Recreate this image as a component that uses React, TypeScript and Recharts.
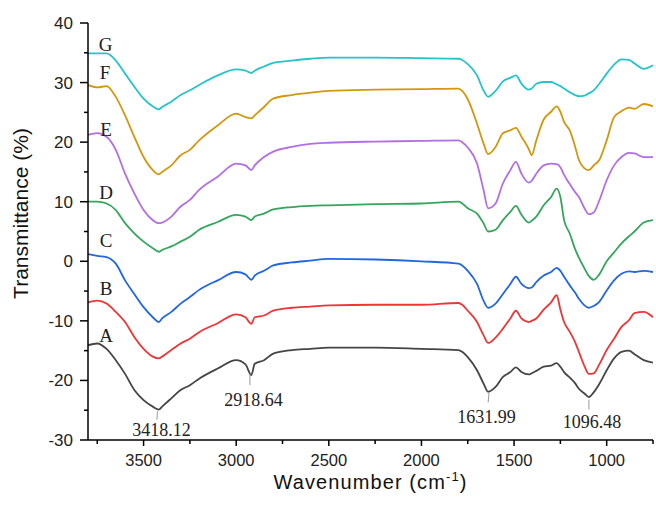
import React from 'react';
import { LineChart, Line, XAxis, YAxis, ReferenceDot, ReferenceLine, Label } from 'recharts';

const wavenumbers = [
  3800, 3750, 3700, 3650, 3600, 3550, 3500, 3450, 3418, 3400,
  3350, 3300, 3250, 3200, 3100, 3000, 2950, 2918, 2900, 2850,
  2800, 2700, 2600, 2500, 2250, 2000, 1800, 1780, 1750, 1700, 1665,
  1640, 1600, 1560, 1520, 1490, 1460, 1420, 1405, 1380, 1340,
  1300, 1270, 1250, 1230, 1200, 1170, 1150, 1120, 1096, 1070,
  1040, 1000, 960, 920, 880, 850, 800, 750,
];

const seriesG = [
  34.9, 34.9, 34.9, 33.7, 31.5, 29.3, 27.3, 26.0, 25.5, 25.9,
  26.8, 27.9, 28.7, 29.6, 31.2, 32.2, 32.0, 31.6, 32.0, 32.7,
  33.3, 33.7, 34.0, 34.2, 34.2, 34.1, 34.0, 33.8, 33.1, 31.2, 28.7,
  27.6, 28.6, 30.2, 30.8, 31.2, 29.8, 28.8, 29.0, 29.8, 30.1,
  30.1, 29.7, 29.4, 29.0, 28.4, 27.9, 27.7, 27.8, 28.2, 28.7,
  29.8, 31.5, 33.0, 33.9, 33.8, 33.2, 32.3, 32.9,
];

const seriesF = [
  29.6, 29.2, 29.4, 27.6, 24.5, 20.9, 17.5, 15.3, 14.6, 15.0,
  16.1, 17.8, 18.7, 20.3, 22.8, 24.8, 24.2, 24.0, 24.5, 25.9,
  27.3, 27.9, 28.3, 28.6, 28.8, 28.9, 29.0, 28.6, 27.2, 23.1, 19.8,
  18.0, 19.2, 21.5, 22.0, 22.4, 20.9, 18.8, 17.8, 20.3, 23.8,
  25.1, 26.0, 25.1, 23.4, 22.0, 19.2, 17.0, 15.6, 15.3, 16.1,
  17.0, 20.3, 24.2, 25.2, 25.8, 25.6, 26.4, 26.0,
];

const seriesE = [
  21.2, 21.5, 20.9, 18.7, 14.7, 11.4, 8.6, 6.9, 6.4, 6.5,
  7.5, 9.2, 10.3, 12.0, 14.2, 16.4, 16.1, 15.3, 16.1, 17.5,
  18.4, 19.2, 19.7, 19.9, 20.1, 20.2, 20.3, 20.0, 19.1, 16.4, 12.0,
  8.9, 9.7, 13.1, 15.3, 16.7, 14.7, 13.2, 13.5, 14.7, 16.1,
  16.4, 16.3, 15.8, 14.5, 13.0, 11.6, 10.8, 8.9, 7.9, 8.2,
  10.2, 13.6, 16.1, 17.5, 18.2, 18.1, 17.5, 17.5,
];

const seriesD = [
  10.0, 10.0, 9.7, 8.6, 6.4, 4.7, 3.3, 2.2, 1.6, 1.9,
  2.5, 3.3, 4.1, 5.3, 6.6, 7.8, 7.5, 6.9, 7.5, 8.0,
  8.7, 9.1, 9.3, 9.4, 9.6, 9.7, 10.0, 9.7, 8.9, 8.0, 6.4,
  5.0, 5.3, 6.9, 8.3, 9.3, 7.8, 6.5, 6.8, 7.5, 9.4,
  10.8, 12.2, 10.8, 6.9, 4.7, 2.0, 0.6, -1.2, -2.5, -3.1,
  -2.2, 0.0, 1.5, 3.0, 4.2, 5.0, 6.5, 6.9,
];

const seriesC = [
  1.2, 0.9, 0.7, -0.4, -3.2, -5.5, -7.7, -9.4, -10.2, -9.6,
  -8.5, -7.1, -6.0, -4.8, -3.2, -1.8, -2.2, -3.1, -2.4, -1.6,
  -0.7, -0.2, 0.1, 0.4, 0.3, 0.0, -0.4, -0.7, -1.6, -3.8, -6.6,
  -7.8, -7.1, -5.5, -3.8, -2.6, -3.8, -4.5, -4.4, -3.5, -2.4,
  -1.8, -1.1, -1.6, -2.6, -4.0, -5.3, -6.3, -7.4, -7.8, -7.5,
  -6.8, -4.9, -3.2, -2.1, -1.7, -1.8, -1.6, -1.8,
];

const seriesB = [
  -6.9, -6.6, -7.1, -8.5, -10.2, -12.7, -14.7, -16.0, -16.3, -16.0,
  -14.9, -13.8, -13.0, -11.9, -10.4, -8.9, -9.4, -10.5, -9.4, -9.1,
  -8.3, -7.8, -7.6, -7.4, -7.3, -7.3, -7.0, -7.3, -8.3, -10.2, -12.4,
  -13.7, -12.8, -11.3, -9.6, -8.3, -9.6, -10.2, -10.0, -9.6, -8.1,
  -6.9, -5.7, -8.1, -10.2, -11.8, -13.6, -15.2, -17.6, -18.9, -18.8,
  -17.3, -14.9, -13.0, -11.0, -9.9, -8.7, -8.5, -9.4,
];

const seriesA = [
  -14.1, -13.8, -14.7, -16.6, -18.9, -21.6, -23.3, -24.4, -24.9, -24.4,
  -23.0, -21.6, -20.8, -19.7, -18.0, -16.6, -17.3, -19.1, -17.2, -16.6,
  -15.5, -14.9, -14.7, -14.5, -14.5, -14.7, -14.9, -15.2, -16.1, -18.3, -20.5,
  -21.9, -21.1, -19.4, -18.6, -17.8, -18.6, -19.0, -18.8, -18.4, -17.7,
  -17.5, -17.1, -17.7, -18.6, -19.5, -20.5, -21.4, -22.2, -22.8, -22.0,
  -20.6, -18.3, -16.3, -15.2, -15.0, -15.6, -16.6, -17.0,
];

const xTicks = [3750, 3500, 3250, 3000, 2750, 2500, 2250, 2000, 1750, 1500, 1250, 1000, 750];
const yTicks = [-30, -25, -20, -15, -10, -5, 0, 5, 10, 15, 20, 25, 30, 35, 40];

// curve letters, placed next to the start of each trace
const letterNames = ['G', 'F', 'E', 'D', 'C', 'B', 'A'];
const letterX = [3705, 3708, 3702, 3702, 3702, 3702, 3702];
const letterY = [36.5, 31.7, 22.2, 11.6, 3.5, -4.5, -12.5];

// peak labels on trace A
const peakNames = ['3418.12', '2918.64', '1631.99', '1096.48'];
const peakTextX = [3403, 2907, 1649, 1079];
const peakTextY = [-28.2, -23.2, -26.1, -26.9];
const leaderX1 = [3425, 2926, 1635, 1096];
const leaderX2 = [3428, 2926, 1640, 1096];
const leaderY1 = [-25.2, -18.9, -22.1, -23.2];
const leaderY2 = [-26.6, -20.8, -23.7, -24.9];

const series = [
  { key: 'A', values: seriesA, color: '#454545' },
  { key: 'B', values: seriesB, color: '#ef3535' },
  { key: 'C', values: seriesC, color: '#2266e0' },
  { key: 'D', values: seriesD, color: '#33a65c' },
  { key: 'E', values: seriesE, color: '#b26ee6' },
  { key: 'F', values: seriesF, color: '#d3970f' },
  { key: 'G', values: seriesG, color: '#25c4c8' },
];

const data = wavenumbers.map((wn, i) => {
  const row: Record<string, number> = { wn };
  series.forEach((s) => {
    row[s.key] = s.values[i];
  });
  return row;
});

const SANS = '"Liberation Sans", Arial, sans-serif';
const SERIF = '"Liberation Serif", "Times New Roman", serif';

const XTick = (props: any) => {
  const { x, y, payload } = props;
  const labelled = payload.value % 500 === 0;
  return (
    <g>
      <line x1={x} x2={x} y1={y} y2={y + (labelled ? 6 : 4)} stroke="#000" strokeWidth={1.5} />
      {labelled && (
        <text x={x} y={y + 20.5} dy="0.35em" textAnchor="middle" fontSize={16.5} fontFamily={SANS} fill="#222">
          {payload.value}
        </text>
      )}
    </g>
  );
};

const YTick = (props: any) => {
  const { x, y, payload } = props;
  const major = payload.value % 10 === 0;
  return (
    <g>
      <line x1={x - (major ? 8 : 4)} x2={x} y1={y} y2={y} stroke="#000" strokeWidth={1.5} />
      {major && (
        <text x={x - 15} y={y} dy="0.35em" textAnchor="end" fontSize={17} fontFamily={SANS} fill="#222">
          {payload.value}
        </text>
      )}
    </g>
  );
};

const XTitle = (props: any) => {
  const { x, y, width } = props.viewBox;
  return (
    <text
      x={x + width / 2}
      y={y + 49}
      textAnchor="middle"
      fontSize={20}
      letterSpacing={1.1}
      fontFamily={SANS}
      fill="#111"
    >
      Wavenumber (cm
      <tspan dy={-8} fontSize={13}>-1</tspan>
      <tspan dy={8}>)</tspan>
    </text>
  );
};

const YTitle = (props: any) => {
  const { x, y, height } = props.viewBox;
  const cx = x + 28;
  const cy = y + height / 2 - 18;
  return (
    <text x={cx} y={cy} transform={`rotate(-90 ${cx} ${cy})`} textAnchor="middle" fontSize={21} fontFamily={SANS} fill="#111">
      Transmittance (%)
    </text>
  );
};

export default function App() {
  return (
    <div style={{ position: 'absolute', left: 0, top: 0, background: '#fff' }}>
      <LineChart width={656} height={508} data={data} margin={{ top: 23, right: 3, bottom: 0, left: 0 }}>
        <XAxis
          type="number"
          dataKey="wn"
          domain={[750, 3800]}
          reversed
          allowDataOverflow
          ticks={xTicks}
          tick={XTick}
          tickLine={false}
          tickSize={0}
          tickMargin={0}
          axisLine={{ stroke: '#000', strokeWidth: 1.5 }}
          height={68}
          interval={0}
        >
          <Label content={XTitle} />
        </XAxis>
        <YAxis
          type="number"
          domain={[-30, 40]}
          ticks={yTicks}
          tick={YTick}
          tickLine={false}
          tickSize={0}
          tickMargin={0}
          axisLine={{ stroke: '#000', strokeWidth: 1.5 }}
          width={88}
          interval={0}
        >
          <Label content={YTitle} />
        </YAxis>
        {series.map((s) => (
          <Line
            key={s.key}
            type="monotone"
            dataKey={s.key}
            stroke={s.color}
            strokeWidth={1.8}
            dot={false}
            isAnimationActive={false}
          />
        ))}
        {peakNames.map((name, i) => (
          <ReferenceLine
            key={'lead' + name}
            segment={[
              { x: leaderX1[i], y: leaderY1[i] },
              { x: leaderX2[i], y: leaderY2[i] },
            ]}
            stroke="#9a9a9a"
            strokeWidth={1}
          />
        ))}
        {peakNames.map((name, i) => (
          <ReferenceDot
            key={'peak' + name}
            x={peakTextX[i]}
            y={peakTextY[i]}
            r={0}
            fill="none"
            stroke="none"
            label={{ value: name, position: 'center', fontSize: 18, fontFamily: SERIF, fill: '#222' }}
          />
        ))}
        {letterNames.map((name, i) => (
          <ReferenceDot
            key={'letter' + name}
            x={letterX[i]}
            y={letterY[i]}
            r={0}
            fill="none"
            stroke="none"
            label={{ value: name, position: 'center', fontSize: 19, fontFamily: SERIF, fill: '#222' }}
          />
        ))}
      </LineChart>
    </div>
  );
}
